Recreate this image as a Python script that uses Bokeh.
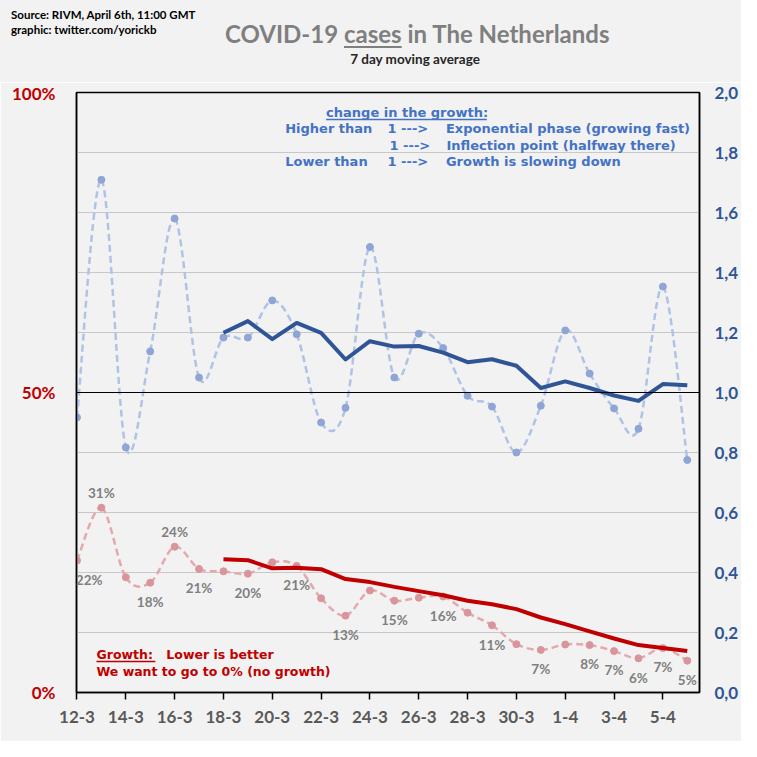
import numpy as np
from bokeh.plotting import figure
from bokeh.layouts import column
from bokeh.models import Range1d, LinearAxis, FixedTicker, Span, Label, Arrow, Div
from bokeh.embed import file_html
from bokeh.resources import INLINE

# ---------------- data ----------------
dates = ["12-3", "13-3", "14-3", "15-3", "16-3", "17-3", "18-3", "19-3", "20-3",
         "21-3", "22-3", "23-3", "24-3", "25-3", "26-3", "27-3", "28-3", "29-3",
         "30-3", "31-3", "1-4", "2-4", "3-4", "4-4", "5-4", "6-4"]

# change in the growth (right axis), daily and 7 day average
change_daily = [0.917, 1.709, 0.817, 1.137, 1.580, 1.050, 1.183, 1.183, 1.307,
                1.194, 0.900, 0.949, 1.485, 1.050, 1.196, 1.148, 0.989, 0.953,
                0.800, 0.956, 1.207, 1.063, 0.947, 0.879, 1.353, 0.775]
change_avg = [1.199, 1.238, 1.178, 1.232, 1.199, 1.110, 1.171, 1.153, 1.155,
              1.133, 1.101, 1.111, 1.089, 1.015, 1.037, 1.015, 0.990, 0.972,
              1.028, 1.024]          # from 18-3

# growth in % (left axis), daily and 7 day average
growth_daily = [22.0, 30.8, 19.2, 18.3, 24.3, 20.6, 20.2, 19.8, 21.7, 21.1,
                15.7, 12.8, 17.0, 15.3, 15.8, 16.0, 13.3, 11.2, 8.05, 7.1,
                8.0, 7.9, 6.9, 5.7, 7.4, 5.3]
growth_avg = [22.2, 22.05, 20.7, 20.8, 20.55, 18.9, 18.4, 17.6, 16.9, 16.2,
              15.3, 14.7, 13.9, 12.5, 11.4, 10.2, 9.0, 7.9, 7.4, 6.9]  # from 18-3

growth_label_dates = ["12-3", "13-3", "15-3", "16-3", "17-3", "19-3", "21-3",
                      "23-3", "25-3", "27-3", "29-3", "31-3", "2-4", "3-4",
                      "4-4", "5-4", "6-4"]
growth_labels_above = ["13-3", "16-3"]

x_tick_labels = ["12-3", "14-3", "16-3", "18-3", "20-3", "22-3", "24-3",
                 "26-3", "28-3", "30-3", "1-4", "3-4", "5-4"]
left_ticks = [0, 50, 100]
left_tick_labels = ["0%", "50%", "100%"]
right_ticks = [0.0, 0.2, 0.4, 0.6, 0.8, 1.0, 1.2, 1.4, 1.6, 1.8, 2.0]
right_tick_labels = ["0,0", "0,2", "0,4", "0,6", "0,8", "1,0", "1,2", "1,4",
                     "1,6", "1,8", "2,0"]

# ---------------- helpers ----------------
days = np.arange(len(dates), dtype=float)
avg_start = len(dates) - len(change_avg)
avg_days = days[avg_start:]


def smooth_segments(xs, ys):
    """Bezier control points (Catmull-Rom style, like a smoothed line)."""
    xs = np.asarray(xs, float)
    ys = np.asarray(ys, float)
    n = len(xs)
    px = np.concatenate([[xs[0]], xs, [xs[-1]]])
    py = np.concatenate([[ys[0]], ys, [ys[-1]]])
    i = np.arange(n - 1) + 1
    cx0 = px[i] + (px[i + 1] - px[i - 1]) / 6.0
    cy0 = py[i] + (py[i + 1] - py[i - 1]) / 6.0
    cx1 = px[i + 1] - (px[i + 2] - px[i]) / 6.0
    cy1 = py[i + 1] - (py[i + 2] - py[i]) / 6.0
    return dict(x0=px[i], y0=py[i], x1=px[i + 1], y1=py[i + 1],
                cx0=cx0, cy0=cy0, cx1=cx1, cy1=cy1)


W = 741
HEAD_H = 82
MAIN_H = W - HEAD_H
BG = "#F2F2F2"

# ---------------- header (source, title, subtitle) ----------------
header_html = f"""
<div style="position:relative;width:{W}px;height:{HEAD_H}px;background:{BG};
            font-family:Lato;font-weight:bold;white-space:nowrap;">
  <div style="position:absolute;left:11px;top:7px;font-size:11.5px;
              line-height:15px;color:#000000;">
    Source: RIVM, April 6th, 11:00 GMT<br>graphic: twitter.com/yorickb</div>
  <div style="position:absolute;left:225px;top:19px;font-size:24px;
              line-height:30px;color:#7F7F7F;">
    COVID-19 <span style="text-decoration:underline;text-decoration-thickness:1.5px;
    text-underline-offset:3px;">cases</span> in The Netherlands</div>
  <div style="position:absolute;left:315px;width:200px;top:51px;text-align:center;
              font-size:13.5px;line-height:17px;color:#262626;">
    7 day moving average</div>
</div>
"""
hdr = Div(text=header_html, width=W, height=HEAD_H, margin=(0, 0, 0, 0),
          styles={"background-color": BG})

# ---------------- main chart ----------------
FR_TOP = 92      # frame top in page pixels
FR_BOT = 692     # frame bottom in page pixels
p = figure(width=W, height=MAIN_H, output_backend="svg", toolbar_location=None,
           x_range=Range1d(-0.02, 25.5), y_range=Range1d(0, 100),
           min_border_left=76, min_border_right=41,
           min_border_top=FR_TOP - HEAD_H, min_border_bottom=W - FR_BOT)
p.extra_y_ranges = {"r": Range1d(0, 2)}
p.background_fill_color = BG
p.border_fill_color = BG
p.outline_line_color = "black"
p.outline_line_width = 1.5


# layout helpers: page pixel position -> data position
def X(px):
    return -0.02 + (px - 76) / 24.45


def Y(py):
    return (FR_BOT - py) / 6.0


# x axis
p.xaxis.ticker = FixedTicker(ticks=[dates.index(d) for d in x_tick_labels])
p.xaxis.major_label_overrides = {dates.index(d): d for d in x_tick_labels}
p.xaxis.major_tick_out = 7
p.xaxis.major_tick_in = 0
p.xaxis.minor_tick_line_color = None
p.xaxis.axis_line_color = "black"
p.xaxis.axis_line_width = 1.5
p.xaxis.major_tick_line_width = 1.5
p.xaxis.major_label_standoff = 11
p.xaxis.major_label_text_font = "Lato"
p.xaxis.major_label_text_font_style = "bold"
p.xaxis.major_label_text_font_size = "17px"
p.xaxis.major_label_text_color = "#595959"

# left axis
p.yaxis.ticker = FixedTicker(ticks=left_ticks)
p.yaxis.major_label_overrides = dict(zip(left_ticks, left_tick_labels))
p.yaxis.major_tick_line_color = None
p.yaxis.major_tick_out = 0
p.yaxis.major_tick_in = 0
p.yaxis.minor_tick_line_color = None
p.yaxis.minor_tick_out = 0
p.yaxis.axis_line_color = "black"
p.yaxis.axis_line_width = 1.5
p.yaxis.major_label_standoff = 21
p.yaxis.major_label_text_font = "Lato"
p.yaxis.major_label_text_font_style = "bold"
p.yaxis.major_label_text_font_size = "17px"
p.yaxis.major_label_text_color = "#C00000"

# right axis
rax = LinearAxis(y_range_name="r", ticker=FixedTicker(ticks=right_ticks),
                 major_label_overrides=dict(zip(right_ticks, right_tick_labels)))
rax.major_tick_line_color = None
rax.major_tick_out = 0
rax.major_tick_in = 0
rax.minor_tick_line_color = None
rax.minor_tick_out = 0
rax.axis_line_color = "black"
rax.axis_line_width = 1.5
rax.major_label_standoff = 15
rax.major_label_text_font = "Lato"
rax.major_label_text_font_style = "bold"
rax.major_label_text_font_size = "17px"
rax.major_label_text_color = "#2F5597"
p.add_layout(rax, "right")

p.xgrid.visible = False
p.ygrid.ticker = FixedTicker(ticks=[10, 20, 30, 40, 60, 70, 80, 90])
p.ygrid.grid_line_color = "#C8C8C8"
p.ygrid.grid_line_width = 1

p.add_layout(Span(location=50, dimension="width", line_color="black",
                  line_width=1.2))

# ---------------- series ----------------
blue_seg = smooth_segments(days, change_daily)
p.bezier(line_color="#AFC3E6", line_width=2.5, line_dash="7 4",
         y_range_name="r", **blue_seg)
p.scatter(days, change_daily, size=7, color="#8EA5D6", y_range_name="r")
p.line(avg_days, change_avg, line_color="#2F5597", line_width=4,
       line_join="round", y_range_name="r")

red_seg = smooth_segments(days, growth_daily)
p.bezier(line_color="#E3A9AC", line_width=2.5, line_dash="7 4", **red_seg)
p.scatter(days, growth_daily, size=7, color="#D9959B")
p.line(avg_days, growth_avg, line_color="#C00000", line_width=4,
       line_join="round")

# data labels on the daily growth
for d in growth_label_dates:
    i = dates.index(d)
    v = growth_daily[i]
    off = 2.5 if d in growth_labels_above else -3.2
    xo = 0.5 if i == 0 else 0.0      # keep first label inside the frame
    p.add_layout(Label(x=days[i] + xo, y=v + off, text=f"{round(v)}%",
                       text_align="center", text_baseline="middle",
                       text_font="Lato", text_font_style="bold",
                       text_font_size="13.5px", text_color="#7F7F7F"))


def label(x, y, text, size, color, font="Lato", align="left"):
    p.add_layout(Label(x=X(x), y=Y(y), text=text, text_align=align,
                       text_baseline="middle", text_font=font,
                       text_font_style="bold", text_font_size=size,
                       text_color=color))


def underline(x0, x1, y, color, width=1.3):
    p.add_layout(Arrow(x_start=X(x0), y_start=Y(y), x_end=X(x1), y_end=Y(y),
                       end=None, line_color=color, line_width=width))


# blue explanation
BL = "#4472C4"
BF = "DejaVu Sans"
BS = "13px"
label(326, 111.5, "change in the growth:", BS, BL, BF)
underline(326, 487, 119, BL)
label(285, 127.5, "Higher than", BS, BL, BF)
label(387.5, 127.5, "1 --->", BS, BL, BF)
label(446, 127.5, "Exponential phase (growing fast)", BS, BL, BF)
label(389.5, 144.5, "1 --->", BS, BL, BF)
label(446.5, 144.5, "Inflection point (halfway there)", BS, BL, BF)
label(285, 160.5, "Lower than", BS, BL, BF)
label(387.5, 160.5, "1 --->", BS, BL, BF)
label(446, 160.5, "Growth is slowing down", BS, BL, BF)

# red explanation
RD = "#C00000"
label(96, 653.5, "Growth:", "12.5px", RD, BF)
underline(96, 155, 661, RD)
label(166, 653.5, "Lower is better", "12.5px", RD, BF)
label(96, 671, "We want to go to 0% (no growth)", "12.5px", RD, BF)

layout = column(hdr, p, spacing=0)
open("out.html", "w").write(file_html(layout, INLINE))
